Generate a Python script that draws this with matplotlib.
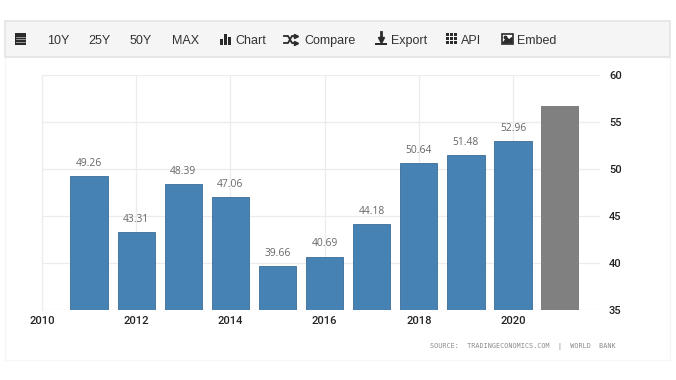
#!/usr/bin/env python3

import matplotlib
matplotlib.use("Agg")
import matplotlib.pyplot as plt
from matplotlib.patches import Rectangle

# ----------------------------
# Data
# ----------------------------
years = [2011, 2012, 2013, 2014, 2015, 2016, 2017, 2018, 2019, 2020]
values = [49.26, 43.31, 48.39, 47.06, 39.66, 40.69, 44.18, 50.64, 51.48, 52.96]
forecast_year = 2021
forecast_value = 56.7
x_ticks = [2010, 2012, 2014, 2016, 2018, 2020]
y_ticks = [35, 40, 45, 50, 55, 60]
menu_labels = ["10Y", "25Y", "50Y", "MAX", "Chart", "Compare", "Export", "API", "Embed"]
menu_x = [47, 88, 130, 172, 235, 304, 391, 461, 517]
source_text = "SOURCE:  TRADINGECONOMICS.COM  |  WORLD  BANK"

W, H = 676, 380
fig = plt.figure(figsize=(W / 100, H / 100), dpi=100, facecolor="white")

# ----------------------------
# Page layer in pixel coords
# ----------------------------
page = fig.add_axes([0, 0, 1, 1])
page.set_xlim(0, W)
page.set_ylim(H, 0)
page.axis("off")

page.add_patch(Rectangle((5, 57), 665, 303, fc="white", ec="#f6f6f6", lw=1))
page.add_patch(Rectangle((5, 21), 665, 36, fc="#f5f5f5", ec="#e4e4e4", lw=1.2))

for label, x in zip(menu_labels, menu_x):
    page.text(x, 44, label, family="Liberation Sans", fontsize=9.0,
              color="#333333", va="baseline", ha="left")

icon = "#2b2b2b"
# calendar
page.add_patch(Rectangle((15, 33), 11, 12, fc=icon, ec="none"))
for y in (36.5, 39, 41.5):
    page.plot([16, 25], [y, y], color="#c4c4c4", lw=0.5)
# bars
page.add_patch(Rectangle((220, 39), 2.5, 6, fc=icon, ec="none"))
page.add_patch(Rectangle((224, 34), 2.5, 11, fc=icon, ec="none"))
page.add_patch(Rectangle((228, 37), 2.5, 8, fc=icon, ec="none"))
# shuffle
page.plot([284, 288, 292, 295], [36, 36, 43, 43], color=icon, lw=1.3)
page.plot([284, 288, 292, 295], [43, 43, 36, 36], color=icon, lw=1.3)
page.plot([296], [36], marker=">", ms=3, color=icon)
page.plot([296], [43], marker=">", ms=3, color=icon)
# download
page.plot([381, 381], [32, 38], color=icon, lw=2)
page.plot([381], [39.5], marker="v", ms=5, color=icon)
page.add_patch(Rectangle((375, 42.5), 12, 2.5, fc=icon, ec="none"))
# grid of dots
for col in range(3):
    for row in range(3):
        page.add_patch(Rectangle((446 + col * 4.2, 33 + row * 4.2), 3, 3, fc=icon, ec="none"))
# image
page.add_patch(Rectangle((501.5, 33.5), 11, 10.5, fc="white", ec=icon, lw=1.2))
page.fill([503, 507, 509, 512, 512, 503], [43, 38, 40, 37.5, 43, 43], color=icon)
page.plot([504.5], [36.5], marker="o", ms=1.8, color=icon)

page.text(616, 347, source_text, family="DejaVu Sans Mono", fontsize=4.9,
          color="#8a8a8a", va="center", ha="right")

# ----------------------------
# Chart
# ----------------------------
left, right, top, bottom = 42, 600, 75, 310
ax = fig.add_axes([left / W, 1 - bottom / H, (right - left) / W, (bottom - top) / H])
ax.patch.set_alpha(0)

ax.bar(years, values, width=0.79, color="#4682b4", edgecolor="#3a6c96", linewidth=0.6, zorder=3)
ax.bar([forecast_year], [forecast_value], width=0.79, color="#808080", zorder=3)

for yr, val in zip(years, values):
    ax.text(yr, val + 0.75, f"{val:.2f}", family="Open Sans", fontsize=7.4,
            color="#666666", ha="center", va="bottom", zorder=4)

ax.set_xlim(2010, 2010 + (right - left) / 47.1)
ax.set_ylim(35, 60)
ax.set_xticks(x_ticks)
ax.set_yticks(y_ticks)
ax.yaxis.tick_right()
ax.grid(True, color="#ececec", lw=0.9, zorder=0)
ax.tick_params(length=0, labelsize=8)
ax.tick_params(axis="x", pad=4.5)
ax.tick_params(axis="y", pad=6.5)
for lab in ax.get_xticklabels() + ax.get_yticklabels():
    lab.set_family("Roboto")
    lab.set_fontweight("medium")
    lab.set_color("#222222")
for side in ["top", "right", "bottom"]:
    ax.spines[side].set_visible(False)
ax.spines["left"].set_color("#ececec")

fig.savefig("out.png", dpi=100)
